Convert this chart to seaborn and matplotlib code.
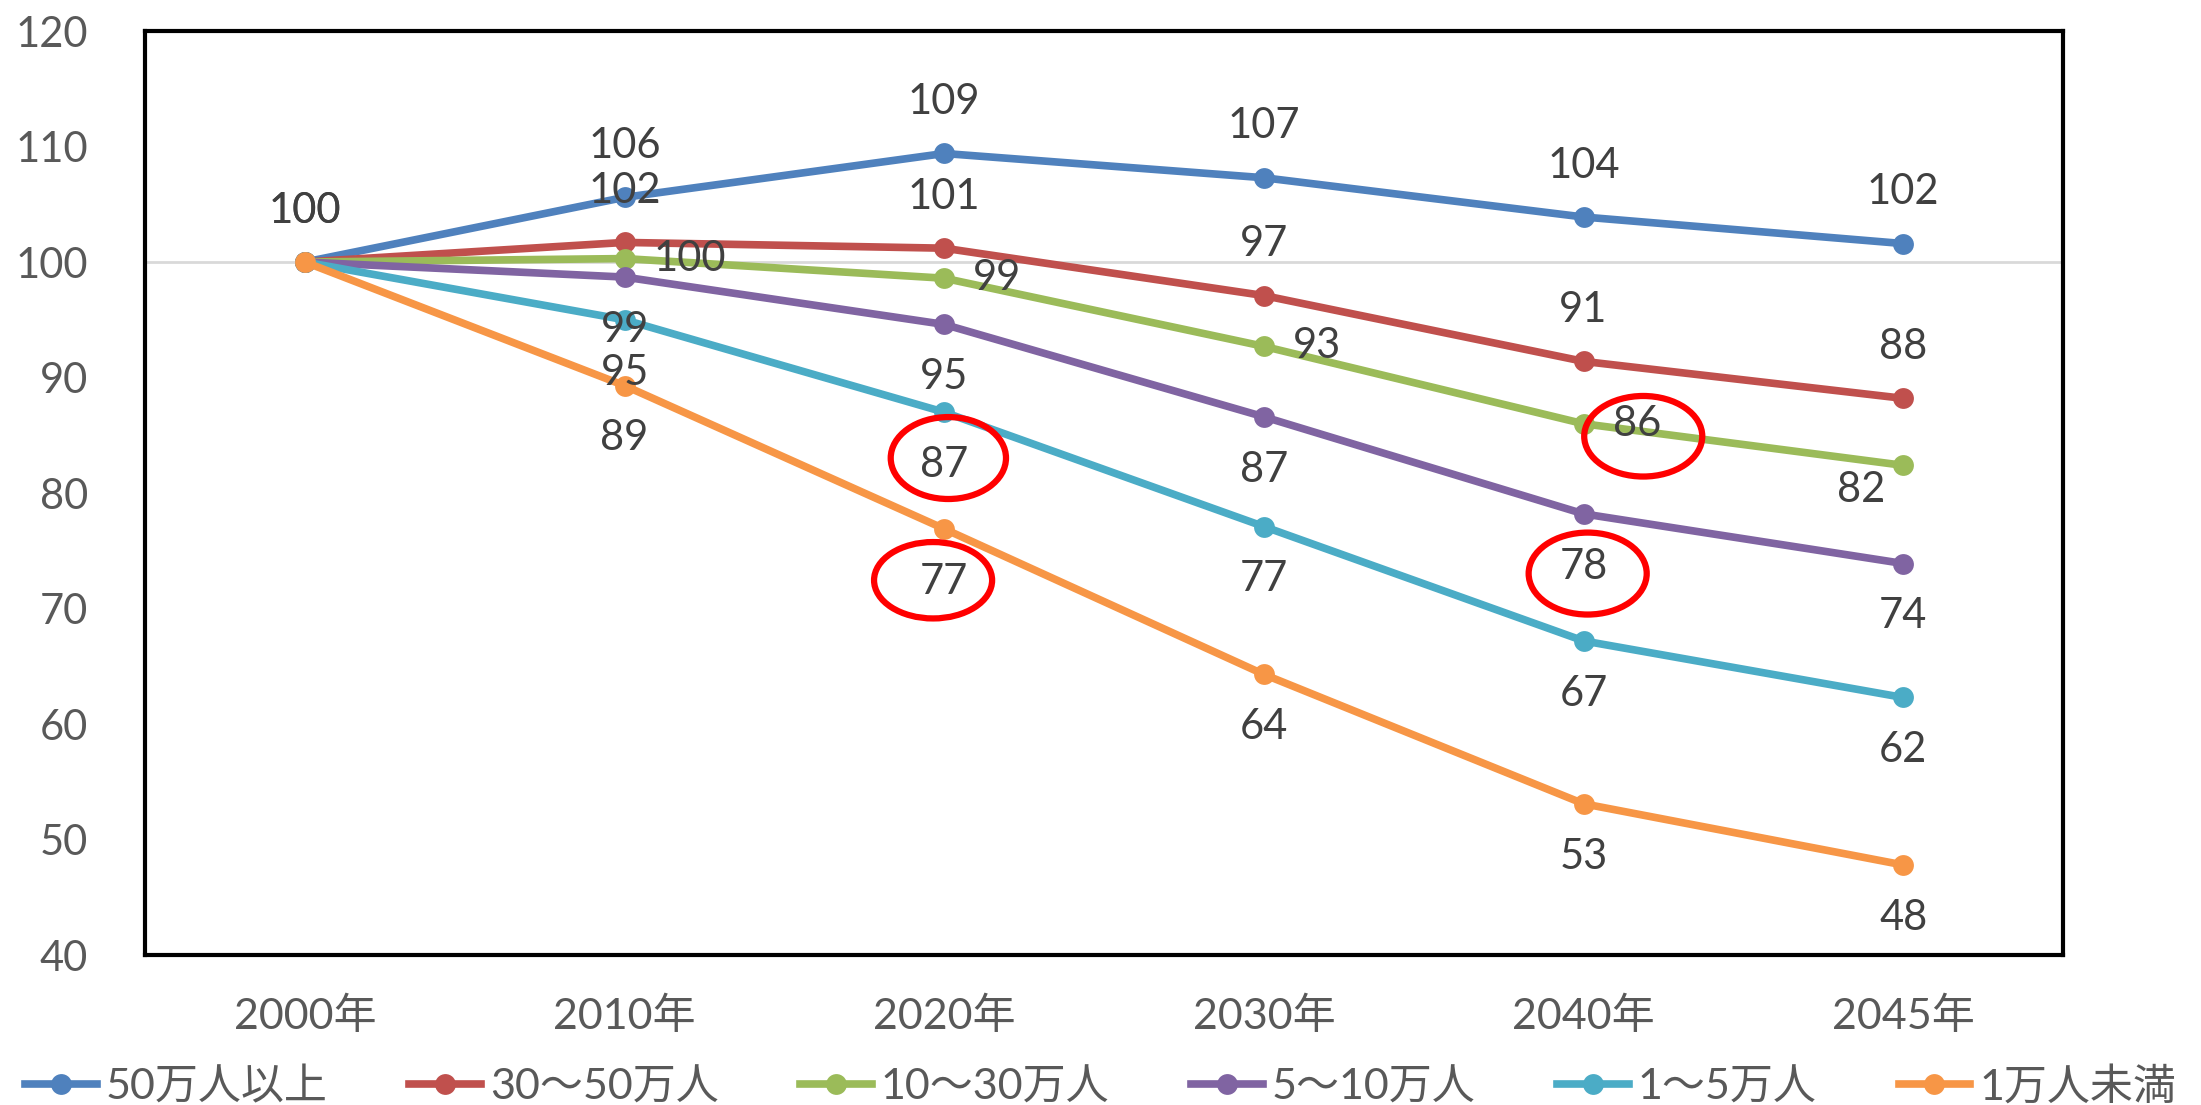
import matplotlib
matplotlib.use("Agg")
import matplotlib.pyplot as plt
import seaborn as sns
import pandas as pd
from matplotlib.patches import Ellipse
from matplotlib.transforms import Affine2D, ScaledTranslation
from matplotlib.lines import Line2D
from matplotlib.font_manager import FontProperties

# ---------------- data ----------------
years = ["2000年", "2010年", "2020年", "2030年", "2040年", "2045年"]
groups = ["50万人以上", "30～50万人", "10～30万人", "5～10万人", "1～5万人", "1万人未満"]
v_50plus = [100, 105.6, 109.4, 107.3, 103.9, 101.6]
v_30_50 = [100, 101.7, 101.2, 97.1, 91.4, 88.2]
v_10_30 = [100, 100.3, 98.6, 92.7, 86.0, 82.4]
v_5_10 = [100, 98.7, 94.6, 86.6, 78.2, 73.9]
v_1_5 = [100, 95.0, 87.0, 77.1, 67.2, 62.3]
v_under1 = [100, 89.3, 76.9, 64.3, 53.1, 47.8]
y_ticks = [40, 50, 60, 70, 80, 90, 100, 110, 120]
colors = ["#4F81BD", "#C0504D", "#9BBB59", "#8064A2", "#4BACC6", "#F79646"]

series = [v_50plus, v_30_50, v_10_30, v_5_10, v_1_5, v_under1]
df = pd.DataFrame({
    "year": [y for _ in groups for y in years],
    "group": [g for g in groups for _ in years],
    "value": [v for s in series for v in s],
})

FAM = ["Lato", "Noto Sans CJK JP", "DejaVu Sans"]
LW = 5.5
MS = 15

fig = plt.figure(figsize=(22.01, 11.05), dpi=100)
ax = fig.add_axes([0.0659, 0.1357, 0.9373 - 0.0659, 0.9719 - 0.1357])

ax.axhline(100, color="#D9D9D9", lw=2, zorder=0.5)

sns.lineplot(data=df, x="year", y="value", hue="group", hue_order=groups,
             palette=colors, sort=False, marker="o", markersize=MS,
             markeredgewidth=0, linewidth=LW, legend=False, ax=ax, zorder=3)

ax.set_xlim(-0.5, 5.5)
ax.set_ylim(40, 120)
ax.set_yticks(y_ticks)
ax.set_xlabel("")
ax.set_ylabel("")
ax.grid(False)
for sp in ax.spines.values():
    sp.set_visible(True)
    sp.set_color("black")
    sp.set_linewidth(3)
ax.tick_params(axis="both", length=0)
ax.tick_params(axis="y", pad=41, labelcolor="#595959")
ax.tick_params(axis="x", pad=30, labelcolor="#595959")
for lab in ax.get_yticklabels():
    lab.set_fontfamily(FAM)
    lab.set_fontsize(30)
for lab in ax.get_xticklabels():
    lab.set_fontfamily(FAM)
    lab.set_fontsize(31)

# ---------------- data labels ----------------
place = ["above", "above", "right", "below", "below", "below"]
for si, vals in enumerate(series):
    for xi, v in enumerate(vals):
        if xi == 0 and si > 1:
            continue
        mode = place[si]
        if si == 2 and xi == 5:
            off, ha = (-30, -18), "center"
        elif mode == "above":
            off, ha = (0, 37), "center"
        elif mode == "below":
            off, ha = (0, -38), "center"
        else:
            off, ha = (21, 0), "left"
        ax.annotate(f"{v:.0f}", xy=(years[xi], v), xytext=off,
                    textcoords="offset points", ha=ha, va="center",
                    fontsize=30, color="#404040", family=FAM, zorder=5)

# ---------------- red rings (highlight) ----------------
rings = [  # (series index, x index, dx pt, dy pt, w pt, h pt)
    (4, 2, 3, -33, 83, 59),
    (5, 2, -8, -37, 85, 55),
    (2, 4, 43, -9, 85, 58),
    (3, 4, 3, -43, 85, 59),
]
for si, xi, dx, dy, w, h in rings:
    tr = Affine2D().scale(fig.dpi / 72.0) + ScaledTranslation(xi, series[si][xi], ax.transData)
    e = Ellipse((dx, dy), w, h, transform=tr, fill=False, ec="#FF0000", lw=4.5,
                clip_on=False, zorder=6)
    ax.add_artist(e)

# ---------------- legend ----------------
handles = [Line2D([], [], color=c, lw=LW, marker="o", markersize=MS,
                  markeredgewidth=0) for c in colors]
fig.legend(handles, groups, loc="center", bbox_to_anchor=(0.5, 0.017), ncol=6,
           frameon=False, handlelength=1.67, handletextpad=0.2,
           columnspacing=1.9, prop=FontProperties(family=FAM, size=31),
           labelcolor="#595959", borderpad=0.2)

fig.savefig("out.png", dpi=100)
